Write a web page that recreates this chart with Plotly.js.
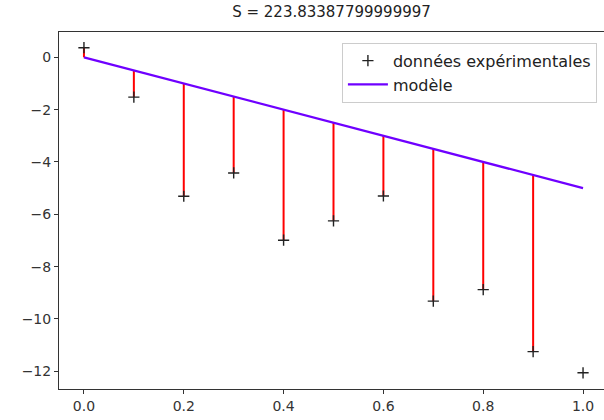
<!DOCTYPE html>
<html>
<head>
<meta charset="utf-8">
<script src="https://cdn.plot.ly/plotly-3.0.1.min.js"></script>
<style>html,body{margin:0;padding:0;background:#fff;}#chart{width:604px;height:420px;}</style>
</head>
<body>
<div id="chart"></div>
<script>
// Data
const xValues = [0.0, 0.1, 0.2, 0.3, 0.4, 0.5, 0.6, 0.7, 0.8, 0.9, 1.0];
const measured = [0.37, -1.52, -5.31, -4.42, -6.99, -6.25, -5.30, -9.32, -8.88, -11.25, -12.06];
const modelValues = [0.0, -0.5, -1.0, -1.5, -2.0, -2.5, -3.0, -3.5, -4.0, -4.5, -5.0];
const residualCount = 10; // red segments drawn for the first 10 points
const titleText = 'S = 223.83387799999997';
const dataName = 'données expérimentales';
const modelName = 'modèle';

const segX = [], segY = [];
for (let i = 0; i < residualCount; i++) {
  segX.push(xValues[i], xValues[i], null);
  segY.push(measured[i], modelValues[i], null);
}

const traces = [
  {x: segX, y: segY, mode: 'lines', type: 'scatter', line: {color: '#ff0000', width: 2},
   showlegend: false, hoverinfo: 'skip'},
  {x: xValues, y: modelValues, mode: 'lines', type: 'scatter', name: modelName,
   line: {color: '#6f00ff', width: 2.2}, legendrank: 2},
  {x: xValues, y: measured, mode: 'markers', type: 'scatter', name: dataName,
   marker: {symbol: 'cross-thin', size: 8, color: '#222', line: {color: '#222', width: 1.4}},
   legendrank: 1}
];

const axisCommon = {
  showline: true, mirror: true, linecolor: '#333', linewidth: 1,
  ticks: 'outside', ticklen: 4, tickcolor: '#333', showgrid: false, zeroline: false,
  tickfont: {family: 'DejaVu Sans', size: 14, color: '#333'}
};

const layout = {
  width: 604, height: 420,
  margin: {l: 59, r: 0, t: 32, b: 31},
  paper_bgcolor: '#fff', plot_bgcolor: '#fff',
  title: {text: titleText, x: 0.5, xref: 'paper', y: 0.972, yanchor: 'middle',
          font: {family: 'DejaVu Sans', size: 15, color: '#222'}},
  xaxis: Object.assign({}, axisCommon, {range: [-0.05, 1.042], tickvals: [0, 0.2, 0.4, 0.6, 0.8, 1.0],
    ticktext: ['0.0', '0.2', '0.4', '0.6', '0.8', '1.0']}),
  yaxis: Object.assign({}, axisCommon, {range: [-12.68, 0.97], tickvals: [0, -2, -4, -6, -8, -10, -12],
    ticktext: ['0', '\u22122', '\u22124', '\u22126', '\u22128', '\u221210', '\u221212']}),
  legend: {x: 0.987, y: 0.97, xanchor: 'right', yanchor: 'top', bgcolor: '#fff',
    bordercolor: '#ccc', borderwidth: 1, font: {family: 'DejaVu Sans', size: 16, color: '#222'},
    tracegroupgap: 0, itemwidth: 40},
  showlegend: true
};

Plotly.newPlot('chart', traces, layout, {staticPlot: true, displayModeBar: false});
</script>
</body>
</html>
